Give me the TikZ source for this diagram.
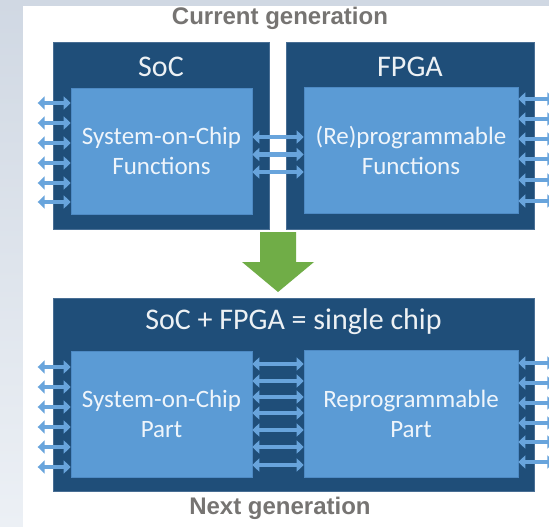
\documentclass[tikz,border=0pt]{standalone}
\usepackage{fontspec}
\setmainfont{Carlito}
\newfontfamily\capfont{Liberation Sans}
\usetikzlibrary{arrows.meta}
\definecolor{chipFill}{RGB}{31,78,121}
\definecolor{chipStroke}{RGB}{72,110,148}
\definecolor{partFill}{RGB}{91,155,213}
\definecolor{partStroke}{RGB}{78,138,196}
\definecolor{ioBlue}{RGB}{104,164,220}
\definecolor{nextGreen}{RGB}{112,173,71}
\definecolor{capGray}{RGB}{118,116,114}
\definecolor{pageTop}{RGB}{208,216,227}
\definecolor{pageBottom}{RGB}{236,240,245}
\tikzset{
  chip/.style={
    draw=chipStroke,
    fill=chipFill,
    line width=0.8pt,
    inner sep=0pt
  },
  part/.style={
    draw=partStroke,
    fill=partFill,
    line width=0.6pt,
    inner sep=0pt,
    align=center,
    text=white!90!partFill,
    font=\fontsize{25}{30}\selectfont
  },
  chiptitle/.style={text=white!92!chipFill, font=\fontsize{30}{34}\selectfont},
  caption/.style={text=capGray, font=\capfont\bfseries\fontsize{24}{28}\selectfont},
  io/.style={{Triangle[length=7pt,width=13pt]}-{Triangle[length=7pt,width=13pt]}, draw=ioBlue, line width=4.5pt}
}

\begin{document}
\begin{tikzpicture}[x=1pt,y=-1pt]
  \useasboundingbox (0,0) rectangle (549,527);
  \clip (0,0) rectangle (549,527);
  \shade[top color=pageTop, bottom color=pageBottom] (0,0) rectangle (549,527);
  \fill[white] (23,6) rectangle (549,527);

  \node[caption] (current) at (280,18) {Current generation};

  % current generation: two chips
  \node[chip, minimum width=216pt, minimum height=187pt] (soc) at (161,135.5) {};
  \node[chip, minimum width=248pt, minimum height=187pt] (fpga) at (410,135.5) {};
  \node[chiptitle] (socTitle) at (161,67) {SoC};
  \node[chiptitle] (fpgaTitle) at (410,67) {FPGA};
  \node[part, minimum width=181pt, minimum height=126pt] (socPart) at (161.5,151) {System-on-Chip\\Functions};
  \node[part, minimum width=214pt, minimum height=126pt] (fpgaPart) at (411,150) {(Re)programmable\\Functions};

  \foreach \y in {103,123,143,163,183,202}
    \draw[io] (socPart.west |- 0,\y) -- ++(-33,0);
  \foreach \y in {99,119,139,159,180,201}
    \draw[io] (fpgaPart.east |- 0,\y) -- ++(36,0);
  \foreach \y in {137,154.5,172}
    \draw[io] (socPart.east |- 0,\y) -- (fpgaPart.west |- 0,\y);

  \fill[nextGreen] (260,232) -- (296,232) -- (296,262) -- (314,262) -- (278,292)
    -- (242,262) -- (260,262) -- cycle;

  % next generation: one chip
  \node[chip, minimum width=481pt, minimum height=193pt] (single) at (293.5,394.5) {};
  \node[chiptitle] (singleTitle) at (293.5,322) {SoC + FPGA = single chip};
  \node[part, minimum width=181pt, minimum height=126pt] (socHalf) at (161.5,414) {System-on-Chip\\Part};
  \node[part, minimum width=214pt, minimum height=127pt] (fpgaHalf) at (411,413.5) {Reprogrammable\\Part};

  \foreach \y in {367,387,407,427,447,467}
    \draw[io] (socHalf.west |- 0,\y) -- ++(-33,0);
  \foreach \y in {363,383,403,423,442,462}
    \draw[io] (fpgaHalf.east |- 0,\y) -- ++(36,0);
  \foreach \y in {364,381,397,413,430,447,465}
    \draw[io] (socHalf.east |- 0,\y) -- (fpgaHalf.west |- 0,\y);

  \node[caption] (next) at (280,508) {Next generation};
\end{tikzpicture}
\end{document}
